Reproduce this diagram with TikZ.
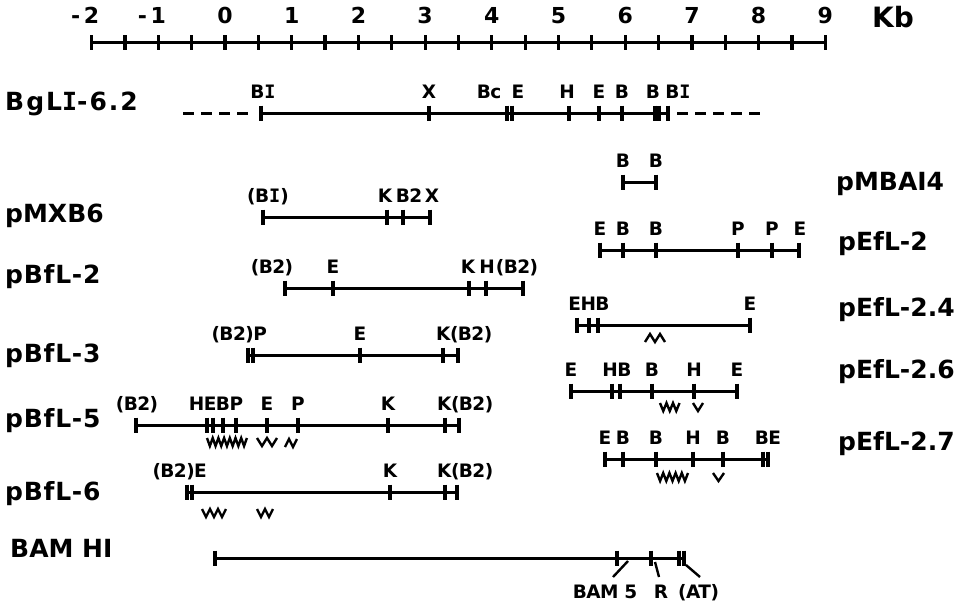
\documentclass[tikz,border=0pt]{standalone}
\usepackage{fontspec}
\setmainfont{DejaVu Sans}[BoldFont={DejaVu Sans Bold}]
\newfontfamily\monofam{DejaVu Sans Mono}[BoldFont={DejaVu Sans Mono Bold}]
\newcommand\sI{{\monofam\bfseries I}}
\newcounter{lbl}
\newcommand\lab[3]{\stepcounter{lbl}\node[site] (lab\arabic{lbl}) at (#1,#2) {#3};}
\newcommand\labE[3]{\stepcounter{lbl}\node[site,anchor=base east] (lab\arabic{lbl}) at (#1,#2) {#3};}
\newcommand\labW[3]{\stepcounter{lbl}\node[site,anchor=base west] (lab\arabic{lbl}) at (#1,#2) {#3};}
\newcommand\wv[4]{\draw[sq] (#1,#2) foreach \i in {1,...,#3} { -- ++(#4/2,8) -- ++(#4/2,-8) };}
\begin{document}
\begin{tikzpicture}[x=1pt,y=-1pt,
  bar/.style={line width=3pt},
  tickline/.style={line width=3.2pt},
  dashln/.style={line width=3pt,dash pattern=on 11pt off 7pt},
  site/.style={font=\fontsize{18.5}{22}\selectfont\bfseries\addfontfeature{LetterSpace=-3}, inner sep=0pt, anchor=base},
  rowlab/.style={font=\fontsize{25}{30}\selectfont\bfseries, inner sep=0pt, anchor=base west},
  num/.style={font=\fontsize{22}{26}\selectfont\bfseries, inner sep=0pt, anchor=base},
  sq/.style={line width=2.4pt, line join=miter},
  tk/.pic={\draw[tickline] (0,-7.5) -- (0,7.5);}
]
\useasboundingbox (0,0) rectangle (968,602);

% ---------- scale ----------
\draw[bar] (91.6,43) -- (825.3,43);
\foreach \k in {-2,-1.5,...,9} \path (225+66.7*\k,43) pic{tk};
\foreach \k in {0,...,9} \node[num] (n\k) at (225+66.7*\k,24) {\k};
\node[num] (nm2) at (225-66.7*2,24) {\llap{-\,}2};
\node[num] (nm1) at (225-66.7,24) {\llap{-\,}1};
\node[font=\fontsize{28}{32}\selectfont\bfseries, inner sep=0pt, anchor=base] (kb) at (893,28) {Kb};

% ---------- left labels ----------
\node[rowlab] (rBgl) at (5,110) {\addfontfeature{LetterSpace=8}BgL\sI-6.2};
\node[rowlab] (rMXB) at (5,222) {pMXB6};
\node[rowlab] (rB2) at (5,283) {\addfontfeature{LetterSpace=3}pBfL-2};
\node[rowlab] (rB3) at (5,362) {\addfontfeature{LetterSpace=3}pBfL-3};
\node[rowlab] (rB5) at (5,427) {\addfontfeature{LetterSpace=3}pBfL-5};
\node[rowlab] (rB6) at (5,500) {\addfontfeature{LetterSpace=3}pBfL-6};
\node[rowlab] (rBAM) at (10,557) {BAM HI};
% ---------- right labels ----------
\node[rowlab] (rMBA) at (836,190) {pMBAI4};
\node[rowlab] (rE2) at (838,250) {pEfL-2};
\node[rowlab] (rE24) at (838,316) {pEfL-2.4};
\node[rowlab] (rE26) at (838,378) {pEfL-2.6};
\node[rowlab] (rE27) at (838,450) {pEfL-2.7};

% ---------- BgLI-6.2 ----------
\draw[dashln] (183,113) -- (254,113);
\draw[dashln] (677,113) -- (765,113);
\draw[bar] (261,113) -- (668,113);
\foreach \x in {261,429,507,512,569,599,622,655,659,668} \path (\x,113) pic{tk};
\lab{263}{98}{B\sI}\lab{429}{98}{X}\lab{489}{98}{Bc}\lab{518}{98}{E}\lab{567}{98}{H}
\lab{599}{98}{E}\lab{622}{98}{B}\lab{653}{98}{B}\lab{678}{98}{B\sI}

% ---------- pMBAI4 ----------
\draw[bar] (623,182) -- (656,182);
\foreach \x in {623,656} \path (\x,182) pic{tk};
\lab{623}{167}{B}\lab{656}{167}{B}

% ---------- pMXB6 ----------
\draw[bar] (263,217) -- (430,217);
\foreach \x in {263,387,403,430} \path (\x,217) pic{tk};
\lab{268}{202}{(B\sI)}\lab{385}{202}{K}\lab{409}{202}{B2}\lab{432}{202}{X}

% ---------- pEfL-2 ----------
\draw[bar] (600,250) -- (799,250);
\foreach \x in {600,623,656,738,772,799} \path (\x,250) pic{tk};
\lab{600}{235}{E}\lab{623}{235}{B}\lab{656}{235}{B}\lab{738}{235}{P}\lab{772}{235}{P}\lab{800}{235}{E}

% ---------- pBfL-2 ----------
\draw[bar] (285,288) -- (523,288);
\foreach \x in {285,333,469,486,523} \path (\x,288) pic{tk};
\lab{272}{273}{(B2)}\lab{333}{273}{E}\lab{468}{273}{K}\lab{487}{273}{H}\lab{517}{273}{(B2)}

% ---------- pEfL-2.4 ----------
\draw[bar] (577,325) -- (750,325);
\foreach \x in {577,589,598,750} \path (\x,325) pic{tk};
\lab{589}{310}{EHB}\lab{750}{310}{E}
\draw[sq] (645,342) -- ++(5,-8) -- ++(5,8) -- ++(5,-8) -- ++(5,8);

% ---------- pBfL-3 ----------
\draw[bar] (248,355) -- (458,355);
\foreach \x in {248,253,360,443,458} \path (\x,355) pic{tk};
\labE{267}{340}{(B2)P}\lab{360}{340}{E}\labW{436}{340}{K(B2)}

% ---------- pEfL-2.6 ----------
\draw[bar] (571,391) -- (737,391);
\foreach \x in {571,612,620,652,694,737} \path (\x,391) pic{tk};
\lab{571}{376}{E}\lab{617}{376}{HB}\lab{652}{376}{B}\lab{694}{376}{H}\lab{737}{376}{E}
\wv{660}{403}{3}{6.5}
\wv{693}{403}{1}{10}

% ---------- pBfL-5 ----------
\draw[bar] (136,425) -- (459,425);
\foreach \x in {136,207,213,223,236,267,298,388,445,459} \path (\x,425) pic{tk};
\lab{137}{410}{(B2)}\lab{216}{410}{HEBP}\lab{267}{410}{E}\lab{298}{410}{P}\lab{388}{410}{K}\labW{437}{410}{K(B2)}
\wv{207}{438}{7}{5.7}
\wv{257}{438}{2}{10}
\draw[sq] (285,447) -- ++(4,-8) -- ++(4,8) -- ++(4,-8);

% ---------- pEfL-2.7 ----------
\draw[bar] (605,459) -- (768,459);
\foreach \x in {605,623,656,693,723,763,768} \path (\x,459) pic{tk};
\lab{605}{444}{E}\lab{623}{444}{B}\lab{656}{444}{B}\lab{693}{444}{H}\lab{723}{444}{B}\lab{768}{444}{BE}
\wv{657}{473}{5}{6.2}
\wv{713}{473}{1}{11}

% ---------- pBfL-6 ----------
\draw[bar] (187,492) -- (457,492);
\foreach \x in {187,192,390,445,457} \path (\x,492) pic{tk};
\labE{207}{477}{(B2)E}\lab{390}{477}{K}\labW{437}{477}{K(B2)}
\wv{202}{509}{3}{8}
\wv{257}{509}{2}{8}

% ---------- BAM HI ----------
\draw[bar] (215,558) -- (684,558);
\foreach \x in {215,617,651,679,684} \path (\x,558) pic{tk};
\coordinate (c5a) at (628,561); \coordinate (c5b) at (613,577);
\coordinate (cRa) at (655,562); \coordinate (cRb) at (659,577);
\coordinate (cAa) at (686,565); \coordinate (cAb) at (700,577);
\draw[line width=2.4pt] (c5a) -- (c5b);
\draw[line width=2.4pt] (cRa) -- (cRb);
\draw[line width=2.4pt] (cAa) -- (cAb);
\lab{605}{598}{BAM 5}\lab{661}{598}{R}\labW{678}{598}{(AT)}
\end{tikzpicture}
\end{document}
